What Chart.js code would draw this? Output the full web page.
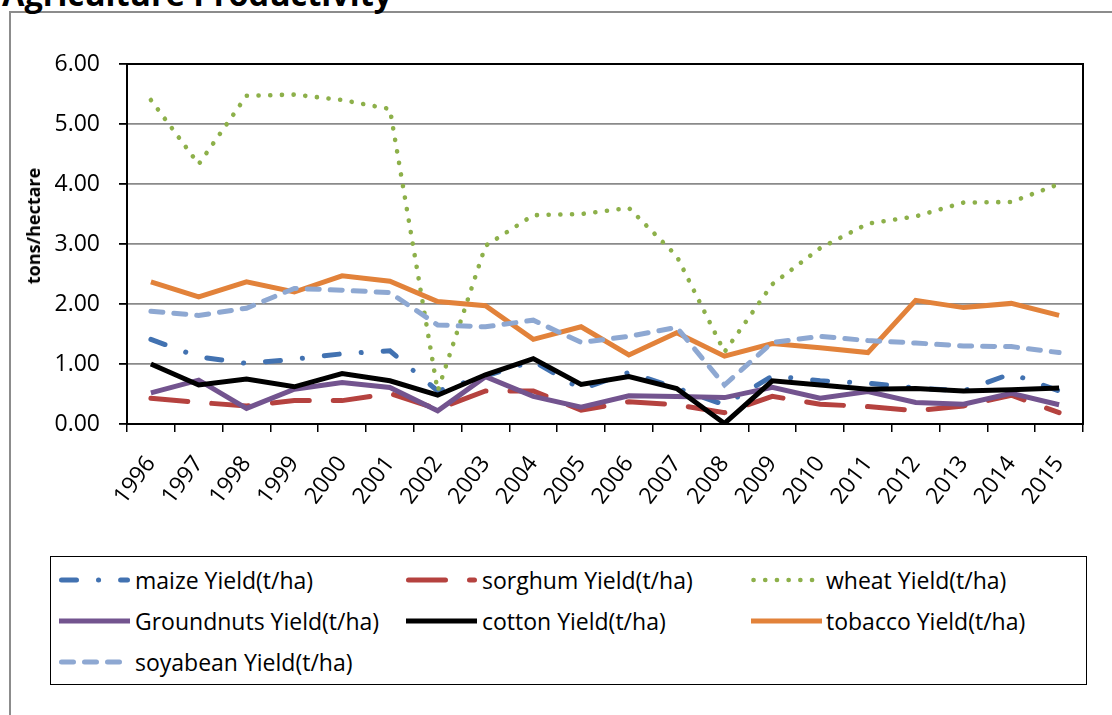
<!DOCTYPE html>
<html>
<head>
<meta charset="utf-8">
<script src="https://cdn.jsdelivr.net/npm/chart.js@4/dist/chart.umd.min.js"></script>
<style>
html,body{margin:0;padding:0;background:#fff;}
#wrap{position:relative;width:1112px;height:715px;overflow:hidden;font-family:'Open Sans',sans-serif;color:#000;}
#frame{position:absolute;left:9px;top:11px;width:1300px;height:900px;border-left:2px solid #8c8c8c;border-top:2px solid #8c8c8c;}
#title{position:absolute;left:2px;top:-22px;font-weight:bold;font-size:32.5px;line-height:32px;white-space:nowrap;}
#chartBox{position:absolute;left:0;top:0;width:1112px;height:715px;}
#ytitle{position:absolute;left:33px;top:226px;transform:translate(-50%,-50%) rotate(-90deg);font-weight:bold;font-size:18px;white-space:nowrap;}
#legend{position:absolute;left:50px;top:556px;width:1037px;height:129px;border:1.5px solid #000;box-sizing:border-box;background:#fff;}
.li{position:absolute;height:30px;line-height:30px;font-size:23px;white-space:nowrap;}
.li svg{position:absolute;top:10px;}
.li span{position:absolute;top:0;}
</style>
</head>
<body>
<div id="wrap">
  <div id="frame"></div>
  <div id="title">Agriculture Productivity</div>
  <div id="chartBox"><canvas id="c" width="1112" height="715"></canvas></div>
  <div id="ytitle">tons/hectare</div>
  <div id="legend"></div>
</div>
<script>
// ---- data ----
const years = ['1996','1997','1998','1999','2000','2001','2002','2003','2004','2005',
               '2006','2007','2008','2009','2010','2011','2012','2013','2014','2015'];
const maize     = [1.41,1.12,1.01,1.08,1.17,1.22,0.55,0.80,1.05,0.58,0.86,0.60,0.32,0.80,0.72,0.68,0.60,0.55,0.84,0.55];
const sorghum   = [0.43,0.36,0.30,0.39,0.39,0.51,0.25,0.55,0.55,0.23,0.37,0.32,0.19,0.46,0.33,0.29,0.22,0.30,0.48,0.19];
const wheat     = [5.40,4.33,5.47,5.49,5.40,5.25,0.55,2.97,3.48,3.50,3.60,2.80,1.20,2.33,2.93,3.34,3.46,3.69,3.70,4.00];
const groundnuts= [0.52,0.73,0.26,0.58,0.69,0.61,0.22,0.79,0.46,0.28,0.47,0.46,0.44,0.61,0.43,0.54,0.36,0.33,0.51,0.32];
const cotton    = [1.00,0.65,0.75,0.62,0.84,0.72,0.48,0.82,1.09,0.66,0.79,0.59,0.01,0.72,0.65,0.58,0.59,0.55,0.57,0.60];
const tobacco   = [2.37,2.12,2.37,2.20,2.47,2.38,2.04,1.97,1.41,1.62,1.15,1.52,1.13,1.34,1.27,1.19,2.06,1.94,2.01,1.81];
const soyabean  = [1.88,1.81,1.93,2.26,2.23,2.19,1.65,1.62,1.73,1.36,1.46,1.61,0.65,1.36,1.46,1.39,1.35,1.30,1.29,1.19];
const seriesNames = ['maize Yield(t/ha)','sorghum Yield(t/ha)','wheat Yield(t/ha)','Groundnuts Yield(t/ha)',
                     'cotton Yield(t/ha)','tobacco Yield(t/ha)','soyabean Yield(t/ha)'];
const yTicks = [0,1,2,3,4,5,6];

// ---- styles ----
const seriesData = [maize, sorghum, wheat, groundnuts, cotton, tobacco, soyabean];
const styles = [
  {color:'#4272B1', width:5,   dash:[15,22,0.1,22]},
  {color:'#B5423F', width:5,   dash:[37,24]},
  {color:'#8DB04A', width:4.6, dash:[0.1,11.6]},
  {color:'#73548F', width:5,   dash:[]},
  {color:'#000000', width:5,   dash:[]},
  {color:'#E2823A', width:5,   dash:[]},
  {color:'#8EA8D2', width:5,   dash:[12,11]}
];

const datasets = seriesData.map((d,i)=>({
  label: seriesNames[i],
  data: d,
  borderColor: styles[i].color,
  backgroundColor: styles[i].color,
  borderWidth: styles[i].width,
  borderDash: styles[i].dash,
  borderCapStyle: styles[i].dash.length ? 'round' : 'butt',
  borderJoinStyle: 'miter',
  pointRadius: 0,
  tension: 0,
  fill: false,
  order: 7 - i
}));

const plotBorder = {
  id:'plotBorder',
  beforeDatasetsDraw(chart){
    const a = chart.chartArea, ctx = chart.ctx;
    ctx.save();
    ctx.strokeStyle = '#000';
    ctx.lineWidth = 2;
    ctx.strokeRect(a.left, a.top, a.right - a.left, a.bottom - a.top);
    ctx.restore();
  }
};

const FONT = {family:"'Open Sans', sans-serif", size:23};

new Chart(document.getElementById('c'), {
  type:'line',
  data:{labels: years, datasets},
  plugins:[plotBorder],
  options:{
    responsive:false,
    animation:false,
    devicePixelRatio:1,
    layout:{padding:{left:0, top:64, right:29, bottom:171}},
    plugins:{legend:{display:false}, tooltip:{enabled:false}, title:{display:false}},
    scales:{
      x:{
        offset:true,
        ticks:{font:FONT, color:'#000', minRotation:53, maxRotation:53, autoSkip:false, padding:19},
        grid:{drawOnChartArea:false, offset:true, tickLength:8, color:'#000', lineWidth:1.5},
        border:{color:'#000', width:2},
        afterFit(s){ s.height = 120; }
      },
      y:{
        min:0, max:6,
        afterBuildTicks(s){ s.ticks = yTicks.map(v=>({value:v})); },
        ticks:{font:FONT, color:'#000', padding:19, callback:v=>Number(v).toFixed(2)},
        grid:{color:(c)=> (c.tick && (c.tick.value===0 || c.tick.value===6)) ? '#000' : '#8a8a8a', lineWidth:1.8, tickLength:8, tickColor:'#000'},
        border:{color:'#000', width:2},
        afterFit(s){ s.width = 127; }
      }
    }
  }
});

// ---- HTML legend ----
const legCols = [{sx:8, tx:84},{sx:355, tx:431},{sx:700, tx:775}];
const legRows = [8, 49, 90];
const leg = document.getElementById('legend');
seriesNames.forEach((name,i)=>{
  const c = legCols[i%3], r = legRows[Math.floor(i/3)], st = styles[i];
  const div = document.createElement('div');
  div.className = 'li';
  div.style.left = '0px'; div.style.top = r + 'px';
  const cap = st.dash.length ? 'round' : 'butt';
  const x1 = st.dash.length ? 2.5 : 0, x2 = st.dash.length ? 68.5 : 71;
  div.innerHTML =
    '<svg style="left:'+c.sx+'px" width="72" height="10"><line x1="'+x1+'" y1="5" x2="'+x2+'" y2="5" stroke="'+st.color+
    '" stroke-width="'+st.width+'" stroke-linecap="'+cap+'" stroke-dasharray="'+(st.dash.length?st.dash.join(' '):'none')+'"/></svg>'+
    '<span style="left:'+c.tx+'px">'+name+'</span>';
  leg.appendChild(div);
});
</script>
</body>
</html>
